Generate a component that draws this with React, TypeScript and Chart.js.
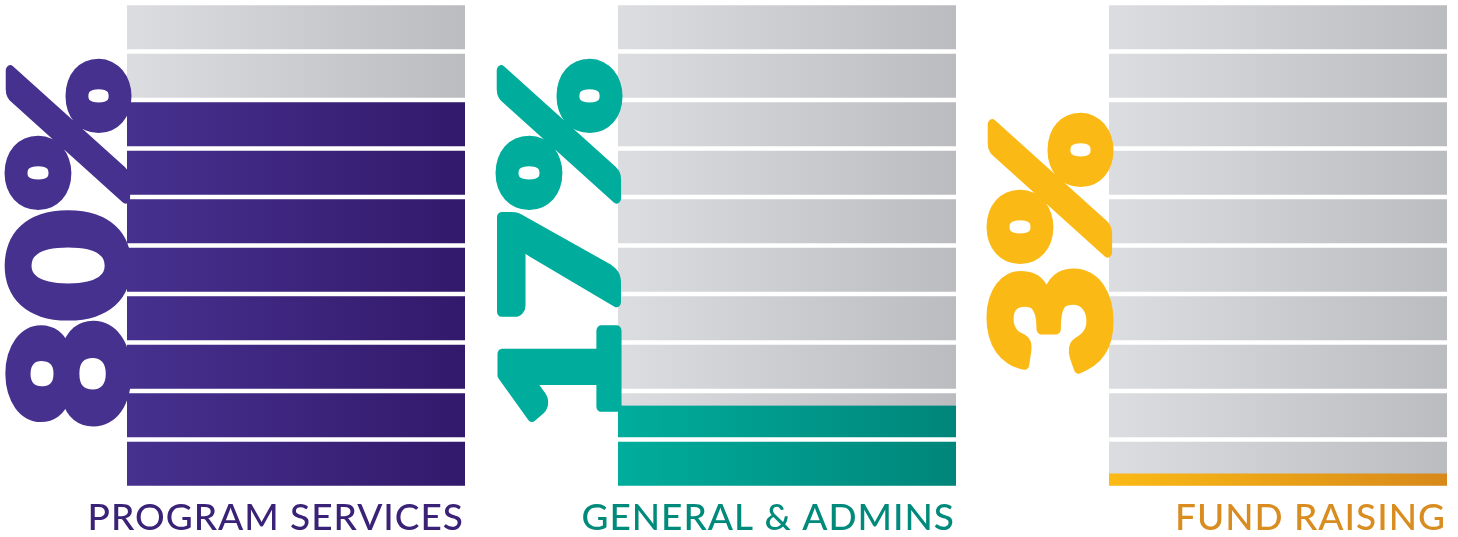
import React, { useEffect, useRef } from "react";
import { Chart, registerables } from "chart.js";

Chart.register(...registerables);

// ---- data ----
const categories = ["PROGRAM SERVICES", "GENERAL & ADMINS", "FUND RAISING"];
const percentValues = [80, 17, 3];
const percentLabels = ["80%", "17%", "3%"];
const segmentStarts = [0, 10, 20, 30, 40, 50, 60, 70, 80, 90];
const segmentSize = 10;

// ---- styles ----
const BAR_W = 338;
const GAP = 2.5;
const fillStops = [
  ["#46318f", "#33196b"],
  ["#00ad9c", "#00857a"],
  ["#fbba15", "#d7891a"],
];
const greyStops = ["#dcdde0", "#bbbcc0"];
const bigTextColors = ["#46318f", "#00ad9c", "#fbb915"];
const labelColors = ["#3a2277", "#008a7b", "#d98c1f"];

function gradientFor(stops: string[]) {
  return (ctx: any) => {
    const chart = ctx.chart;
    const xs = chart.scales && chart.scales.x;
    if (!xs || !chart.chartArea) return stops[0];
    const cx = xs.getPixelForValue(ctx.dataIndex);
    const g = chart.ctx.createLinearGradient(cx - BAR_W / 2, 0, cx + BAR_W / 2, 0);
    g.addColorStop(0, stops[0]);
    g.addColorStop(1, stops[1]);
    return g;
  };
}

const textPlugin = {
  id: "textPlugin",
  afterDatasetsDraw(chart: any) {
    const { ctx, scales } = chart;
    const xs = scales.x;
    const ys = scales.y;
    categories.forEach((cat, i) => {
      const cx = xs.getPixelForValue(i);
      const left = cx - BAR_W / 2;
      const right = cx + BAR_W / 2;
      // big rotated percentage
      ctx.save();
      ctx.translate(left - 1, ys.getPixelForValue(50) - 3);
      ctx.rotate(-Math.PI / 2);
      ctx.scale(1.18, 1);
      ctx.font = "900 158px Lato";
      ctx.fillStyle = bigTextColors[i];
      ctx.strokeStyle = bigTextColors[i];
      ctx.lineWidth = 9;
      ctx.lineJoin = "round";
      ctx.textAlign = "center";
      ctx.textBaseline = "alphabetic";
      ctx.fillText(percentLabels[i], 0, 0);
      ctx.strokeText(percentLabels[i], 0, 0);
      ctx.restore();
      // category label
      ctx.save();
      ctx.font = "500 37px Lato";
      ctx.fillStyle = labelColors[i];
      ctx.textAlign = "right";
      ctx.textBaseline = "alphabetic";
      (ctx as any).letterSpacing = "1px";
      ctx.fillText(cat, right - 1, ys.getPixelForValue(0) + 42);
      ctx.restore();
    });
  },
};

export default function App() {
  const ref = useRef<HTMLCanvasElement>(null);
  useEffect(() => {
    document.body.style.margin = "0";
    const canvas = ref.current;
    if (!canvas) return;

    const coloured = segmentStarts.map((lo) => ({
      data: percentValues.map((v) =>
        v > lo ? [lo, Math.min(lo + segmentSize, v)] : null
      ),
      backgroundColor: (ctx: any) => gradientFor(fillStops[ctx.dataIndex])(ctx),
      borderColor: "#ffffff",
      borderWidth: (ctx: any) => {
        const raw = ctx.raw;
        const full = raw && raw[1] === raw[0] + segmentSize;
        return { top: full ? GAP : 0, bottom: GAP, left: 0, right: 0 };
      },
      borderSkipped: false,
      order: 0,
    }));
    const grey = segmentStarts.map((lo) => ({
      data: percentValues.map(() => [lo, lo + segmentSize]),
      backgroundColor: gradientFor(greyStops),
      borderColor: "#ffffff",
      borderWidth: { top: GAP, bottom: GAP, left: 0, right: 0 },
      borderSkipped: false,
      order: 1,
    }));

    const chart = new Chart(canvas, {
      type: "bar",
      data: { labels: categories, datasets: [...coloured, ...grey] as any },
      options: {
        responsive: false,
        animation: false,
        events: [],
        layout: { padding: { left: 296, right: 180, top: 3, bottom: 49 } },
        datasets: {
          bar: { grouped: false, barThickness: BAR_W, clip: false } as any,
        },
        plugins: { legend: { display: false }, tooltip: { enabled: false } },
        scales: {
          x: { type: "category", offset: false, display: false },
          y: { type: "linear", min: 0, max: 100, display: false },
        },
      },
      plugins: [textPlugin],
    });
    return () => chart.destroy();
  }, []);
  return (
    <div style={{ width: 1458, height: 537, background: "#fff" }}>
      <canvas ref={ref} width={1458} height={537} style={{ display: "block" }} />
    </div>
  );
}
